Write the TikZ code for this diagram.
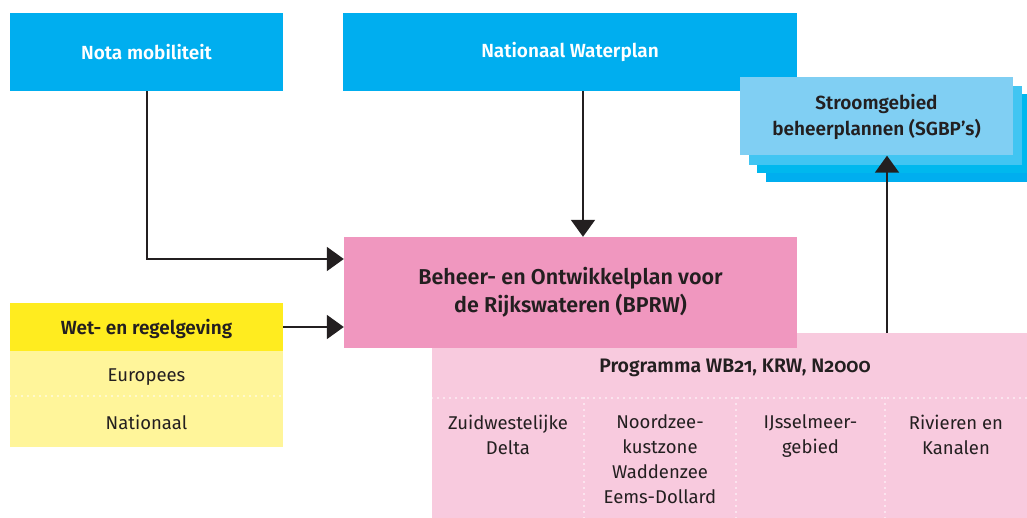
\documentclass[tikz,border=0pt]{standalone}
\usepackage{fontspec}
\setmainfont[Numbers=OldStyle,BoldFont={Fira Sans SemiBold}]{Fira Sans}
\usetikzlibrary{arrows.meta,calc}
\definecolor{ink}{HTML}{231F20}
\definecolor{rijkcyan}{HTML}{00AEEF}
\definecolor{sgbpA}{HTML}{80CFF3}
\definecolor{sgbpB}{HTML}{41C5F2}
\definecolor{sgbpC}{HTML}{00B8EE}
\definecolor{bprwpink}{HTML}{F097BF}
\definecolor{progpink}{HTML}{F8CADE}
\definecolor{wetyellow}{HTML}{FFEC1F}
\definecolor{wetlight}{HTML}{FFF59A}

\begin{document}
\begin{tikzpicture}[x=1pt,y=-1pt,
    box/.style={rectangle,inner sep=0pt,text=ink,align=center,
      font=\fontsize{19}{26}\selectfont\bfseries},
    plain/.style={inner sep=0pt,text=ink,align=center,
      font=\fontsize{18.5}{25}\selectfont},
    flow/.style={draw=ink,line width=2pt,-{Triangle[width=24pt,length=17pt]}},
    sep/.style={draw=white,line width=1.6pt,line cap=round,dash pattern=on 0pt off 6pt}]
      \useasboundingbox (0,0) rectangle (1027,518);
      \node[box,fill=rijkcyan,text=white,minimum width=273pt,minimum height=78pt] (nota) at (146.5,52) {Nota mobiliteit};
      \node[box,fill=rijkcyan,text=white,minimum width=454pt,minimum height=78pt] (water) at (570,52) {Nationaal Waterplan};
      \fill[rijkcyan] (766,103) rectangle (1039,182);
      \fill[sgbpC] (757,94) rectangle (1030,173);
      \fill[sgbpB] (749,86) rectangle (1022,165);
      \node[box,fill=sgbpA,minimum width=273pt,minimum height=78pt] (sgbp) at (876.5,116.5) {Stroomgebied\\beheerplannen (SGBP’s)};
      \fill[progpink] (432,333) rectangle (1027,518);
      \node[box,fill=bprwpink,minimum width=453pt,minimum height=111pt,font=\fontsize{21.5}{28}\selectfont\bfseries] (bprw) at (570.5,292.5) {Beheer- en Ontwikkelplan voor\\de Rijkswateren (BPRW)};
      \node[box,font=\fontsize{19.5}{26}\selectfont\bfseries] (prog) at (735,368) {Programma WB21, KRW, N2000};
      \draw[sep] (432,398) -- (1027,398);
      \foreach \xs in {584,736,885}
        \draw[sep] (\xs,398) -- (\xs,518);
      \node[plain,anchor=north] (zwd) at (508,414.5) {Zuidwestelijke\\Delta};
      \node[plain,anchor=north] (nzk) at (660,414.5) {Noordzee-\\kustzone\\Waddenzee\\Eems-Dollard};
      \node[plain,anchor=north] (ijm) at (810.5,414.5) {IJsselmeer-\\gebied};
      \node[plain,anchor=north] (riv) at (956,414.5) {Rivieren en\\Kanalen};
      \node[box,fill=wetyellow,minimum width=273pt,minimum height=48pt] (wet) at (146.5,327) {};
      \node[box] (wettxt) at (146.5,329) {Wet- en regelgeving};
      \fill[wetlight] (wet.south west) rectangle (283,447);
      \draw[sep] (10,396) -- (283,396);
      \node[plain] (eur) at (146.5,377) {Europees};
      \node[plain] (nat) at (146.5,422) {Nationaal};
      \coordinate (notabend) at (147,259);
      \coordinate (progtop) at (887,333);
      \draw[flow] (nota.south -| notabend) -- (notabend) -- (notabend -| bprw.west);
      \draw[flow] ($(water.south)+(13,0)$) -- ($(bprw.north)+(12.5,0)$);
      \draw[flow] (wet.east) -- (wet.east -| bprw.west);
      \draw[flow] (progtop) -- (progtop |- sgbp.south);
    \end{tikzpicture}
\end{document}
